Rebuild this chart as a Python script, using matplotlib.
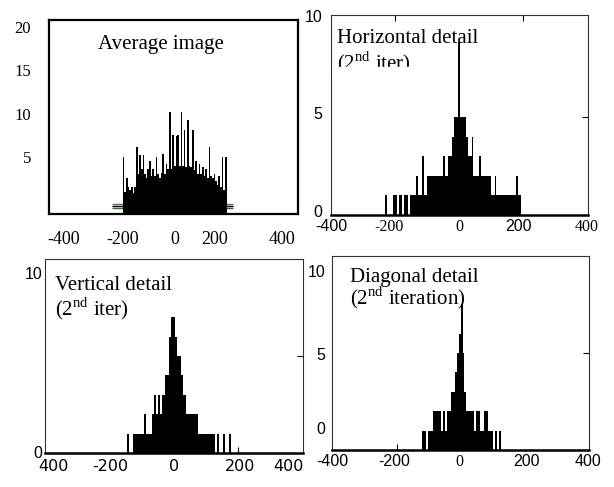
import numpy as np
import matplotlib
matplotlib.use("Agg")
import matplotlib.pyplot as plt
from matplotlib.patches import Rectangle
from matplotlib.ticker import FixedLocator, NullFormatter

plt.rcParams['mathtext.fontset'] = 'custom'
plt.rcParams['mathtext.rm'] = 'Liberation Serif'
plt.rcParams['axes.unicode_minus'] = False

SERIF = 'Liberation Serif'
SANS = 'Liberation Sans'
BIN = 6

# Histogram counts (bin width 6, bin centres from the first value)
avg_start = -186
avg_counts = [5.0, 1.0, 2.6, 1.6, 1.2, 1.6, 0.9, 1.6, 6.2, 3.0, 5.2, 3.6, 5.2, 3.0, 2.6, 3.6,
              4.5, 2.8, 3.6, 2.8, 5.0, 3.0, 2.6, 3.2, 5.4, 3.0, 4.2, 3.6, 10.2, 3.6, 7.6, 4.0,
              7.4, 7.6, 4.0, 10.2, 4.0, 8.1, 3.8, 9.3, 4.0, 3.8, 8.1, 3.5, 4.5, 3.0, 4.2, 3.0,
              3.8, 2.8, 3.6, 2.6, 6.2, 2.8, 2.6, 3.0, 2.2, 1.8, 2.8, 1.6, 5.0, 1.2, 5.0]
avg_ghost_levels = [-0.4, -0.63, -0.87]
avg_ghost_span = [-228, 212]

hor_start = -228
hor_counts = [1, 0, 0, 0, 1, 1, 0, 1, 1, 0, 1, 1, 0, 1, 1,
              1, 2, 1, 1,
              3, 1, 1, 2, 2, 2, 2, 2, 2, 2, 2,
              3, 2, 2, 3, 3, 4, 5, 5,
              8.8, 5, 5, 5, 4, 3, 3, 4,
              2, 2, 2, 3, 2, 2, 2, 2, 2,
              1, 1, 2, 1, 1, 1, 1, 1, 1, 1, 1, 1, 1, 2, 1, 1, 0, 0]

ver_start = -150
ver_counts = [0, 1, 0, 0, 1, 1, 1, 1, 1, 1, 2, 1, 1, 1, 2, 3, 2, 3, 2, 3, 3, 4, 4, 6,
              7, 7, 6, 5, 5, 4, 3, 3, 2, 2, 2, 2, 2, 2, 1, 1, 1, 1, 1, 1, 1, 1, 1,
              0, 1, 0, 0, 1, 0, 0, 1]

dia_start = -120
dia_counts = [1, 1, 0, 1, 1, 1, 2, 2, 2, 2, 1, 2, 1, 2, 2, 3, 3, 4, 5, 6,
              7.5, 5, 3, 2, 2, 2, 2, 1, 2, 2, 1, 1, 2, 2, 1, 1, 1, 0, 1, 0, 1]

x_tick_text = ['-400', '-200', '0', '200', '400']


def edges(start, counts):
    return start - BIN / 2 + BIN * np.arange(len(counts) + 1)


fig = plt.figure(figsize=(6.14, 4.87), dpi=100)
ax1 = fig.add_axes([0.0798, 0.5606, 0.4055, 0.3984])
ax2 = fig.add_axes([0.5391, 0.5585, 0.4186, 0.4107])
ax3 = fig.add_axes([0.0733, 0.0698, 0.4202, 0.3984])
ax4 = fig.add_axes([0.5407, 0.0760, 0.4186, 0.3984])

# ---- Average image
y0 = -1.56
for lev, col in zip(avg_ghost_levels, ['#666666', 'black', '#2e6b2e']):
    ax1.hlines(lev, avg_ghost_span[0], avg_ghost_span[1], color=col, lw=1, zorder=1)
ax1.stairs(avg_counts, edges(avg_start, avg_counts), baseline=y0, fill=True, color='black', zorder=2)
ax1.set_xlim(-457, 448)
ax1.set_ylim(y0, 20.8)
ax1.set_xticks([-405, -190, 0, 146, 390], x_tick_text)
ax1.set_yticks([5, 10, 15, 20], ['5', '10', '15', '20'])
ax1.tick_params(length=0, labelsize=13)
ax1.tick_params(axis='x', pad=12)
ax1.tick_params(axis='y', pad=13, labelsize=12)
for lab in ax1.get_xticklabels() + ax1.get_yticklabels():
    lab.set_family(SERIF)
for sp in ax1.spines.values():
    sp.set_linewidth(1.6)
ax1.text(0.197, 0.8505, 'Average image', transform=ax1.transAxes, family=SERIF,
         fontsize=15, va='baseline', ha='left')

# ---- Horizontal detail
ax2.stairs(hor_counts, edges(hor_start, hor_counts), baseline=0, fill=True, color='black')
ax2.set_xlim(-400, 403)
ax2.set_ylim(0, 10.2)
ax2.set_xticks([-400, -220, 0, 185, 400], x_tick_text)
ax2.set_yticks([0.2, 5.2, 10.15], ['0', '5', '10'])
ax2.xaxis.set_minor_locator(FixedLocator([-200, 0, 200]))
ax2.yaxis.set_minor_locator(FixedLocator([5]))
ax2.text(0.023, 0.86, 'Horizontal detail', transform=ax2.transAxes, family=SERIF,
         fontsize=15, va='baseline')
ax2.text(0.023, 0.73, '(2$^{\\mathrm{nd}}$ iter)', transform=ax2.transAxes, family=SERIF,
         fontsize=15, va='baseline')
ax2.add_patch(Rectangle((0.008, 0.675), 0.38, 0.0675, transform=ax2.transAxes,
                        color='white', zorder=5))
fam2 = [SANS, SERIF, SERIF, SANS, SERIF]
for lab, f in zip(ax2.get_xticklabels(), fam2):
    lab.set_family(f)

# ---- Vertical detail
ax3.stairs(ver_counts, edges(ver_start, ver_counts), baseline=0, fill=True, color='black')
ax3.set_xlim(-403, 403)
ax3.set_ylim(0, 10)
ax3.set_xticks([-378, -200, 0, 206, 356], ['400', '-200', '0', '200', '400'])
ax3.set_yticks([0.05, 9.3], ['0', '10'])
ax3.xaxis.set_minor_locator(FixedLocator([-200, 200]))
ax3.yaxis.set_minor_locator(FixedLocator([5]))
ax3.text(0.039, 0.84, 'Vertical detail', transform=ax3.transAxes, family=SERIF,
         fontsize=15, va='baseline')
ax3.text(0.039, 0.711, '(2$^{\\mathrm{nd}}$ iter)', transform=ax3.transAxes, family=SERIF,
         fontsize=15, va='baseline')

# ---- Diagonal detail
ax4.stairs(dia_counts, edges(dia_start, dia_counts), baseline=0, fill=True, color='black')
ax4.set_xlim(-401.5, 395)
ax4.set_ylim(0, 10)
ax4.set_xticks([-400, -210, -6, 200, 392], x_tick_text)
ax4.set_yticks([1.15, 4.95, 9.25], ['0', '5', '10'])
ax4.xaxis.set_minor_locator(FixedLocator([-200, 200]))
ax4.yaxis.set_minor_locator(FixedLocator([5]))
ax4.text(0.07, 0.8675, 'Diagonal detail', transform=ax4.transAxes, family=SERIF,
         fontsize=15, va='baseline')
ax4.text(0.07, 0.7526, '(2$^{\\mathrm{nd}}$ iteration)', transform=ax4.transAxes, family=SERIF,
         fontsize=15, va='baseline')
fam4 = [SANS, SANS, SERIF, SANS, SANS]
for lab, f in zip(ax4.get_xticklabels(), fam4):
    lab.set_family(f)

for ax in (ax2, ax3, ax4):
    ax.tick_params(which='major', length=0, labelsize=11.5)
    ax.tick_params(which='minor', direction='in', length=4, width=0.8)
    ax.xaxis.set_minor_formatter(NullFormatter())
    ax.yaxis.set_minor_formatter(NullFormatter())
    for sp in ax.spines.values():
        sp.set_linewidth(0.8)
        sp.set_color('#333333')
    ax.spines['bottom'].set_linewidth(1.8)
    ax.spines['bottom'].set_color('black')
    for lab in ax.get_yticklabels():
        lab.set_family(SANS)

ax2.tick_params(which='minor', axis='x', bottom=False, top=True)
ax2.tick_params(which='minor', axis='y', left=False, right=True)
ax2.tick_params(axis='x', pad=3)
ax2.tick_params(axis='y', pad=6)
ax3.tick_params(which='minor', axis='y', left=False, right=True)
ax3.tick_params(axis='x', pad=4)
ax3.tick_params(axis='y', pad=2)
ax4.tick_params(which='minor', axis='y', left=False, right=True)
ax4.tick_params(axis='x', pad=3)
ax4.tick_params(axis='y', pad=5)

fig.savefig('out.png', dpi=100)
